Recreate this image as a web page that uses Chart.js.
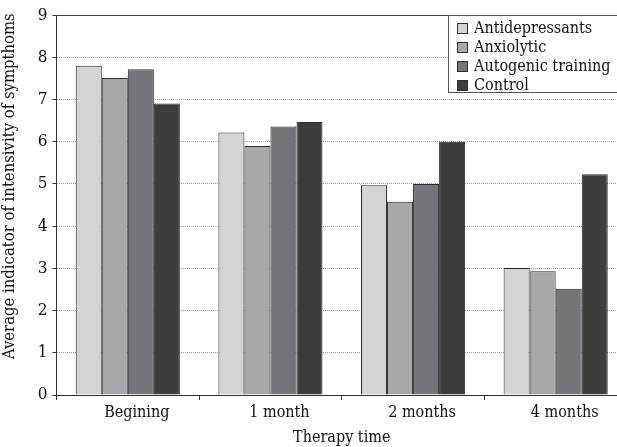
<!DOCTYPE html>
<html lang="en">
<head>
<meta charset="UTF-8">
<title>Therapy time</title>
<script src="https://cdn.jsdelivr.net/npm/chart.js"></script>
<style>
    html, body { margin: 0; padding: 0; background: #fff; }
    .moldura { position: relative; width: 617px; height: 447px; overflow: hidden; }
    .moldura canvas { position: absolute; left: 0; top: 0; }
    .legenda {
        position: absolute; left: 448px; top: 15px; width: 200px; height: 78px;
        border: 1px solid #555; background: #fff; box-sizing: border-box;
        font-family: "DejaVu Serif Condensed", "DejaVu Serif", serif; font-size: 16px; color: #111;
        padding-top: 2px;
    }
    .legenda div { height: 19px; line-height: 19px; white-space: nowrap; }
    .legenda span.q {
        display: inline-block; width: 9px; height: 9px; border: 1px solid #333;
        margin: 0 6px 0 8px; vertical-align: -1px;
    }
</style>
</head>
<body>
<div class="moldura">
    <canvas id="grafico" width="627" height="447"></canvas>
    <div class="legenda" id="legenda"></div>
</div>

<script>
    // dados
    const categorias = ['Begining', '1 month', '2 months', '4 months'];
    const antidepressants = [7.8, 6.22, 4.97, 3.01];
    const anxiolytic = [7.51, 5.9, 4.58, 2.93];
    const autogenic = [7.72, 6.36, 5.0, 2.52];
    const control = [6.91, 6.47, 6.0, 5.23];

    const nomesSeries = ['Antidepressants', 'Anxiolytic', 'Autogenic training', 'Control'];
    const coresSeries = ['#d3d4d6', '#a7a8ab', '#737579', '#3d3d3d'];
    const valoresSeries = [antidepressants, anxiolytic, autogenic, control];

    const fonte = '"DejaVu Serif Condensed", "DejaVu Serif", serif';

    // legenda em html (fica por cima da area do grafico)
    const legenda = document.getElementById('legenda');
    for (let i = 0; i < nomesSeries.length; i++) {
        const linha = document.createElement('div');
        linha.innerHTML = '<span class="q" style="background:' + coresSeries[i] + '"></span>' + nomesSeries[i];
        legenda.appendChild(linha);
    }

    const datasets = [];
    for (let i = 0; i < nomesSeries.length; i++) {
        datasets.push({
            label: nomesSeries[i],
            data: valoresSeries[i],
            backgroundColor: coresSeries[i],
            borderColor: '#2a2a2a',
            borderWidth: 1,
            categoryPercentage: 0.73,
            barPercentage: 1.0
        });
    }

    const config = {
        type: 'bar',
        data: { labels: categorias, datasets: datasets },
        options: {
            responsive: false,
            animation: false,
            layout: { padding: { top: 15, right: 0, left: 0, bottom: 0 } },
            plugins: { legend: { display: false }, tooltip: { enabled: false } },
            scales: {
                x: {
                    afterFit: function (scale) { scale.height = 52; },
                    grid: {
                        offset: true,
                        drawOnChartArea: false,
                        tickLength: 5,
                        tickColor: '#333'
                    },
                    border: { color: '#333', width: 1 },
                    ticks: {
                        color: '#111',
                        font: { family: fonte, size: 16 },
                        padding: 3,
                        labelOffset: 9
                    },
                    title: {
                        display: true,
                        text: 'Therapy time',
                        color: '#111',
                        font: { family: fonte, size: 16 },
                        padding: { top: 4, bottom: 0 }
                    }
                },
                y: {
                    min: 0,
                    max: 9,
                    afterFit: function (scale) { scale.width = 56.5; },
                    ticks: {
                        stepSize: 1,
                        color: '#111',
                        font: { family: fonte, size: 17 },
                        padding: 5
                    },
                    grid: {
                        color: function (ctx) {
                            if (ctx.tick && (ctx.tick.value === 9 || ctx.tick.value === 0)) return '#444';
                            return '#a0a0a0';
                        },
                        lineWidth: 1,
                        tickLength: 4,
                        tickColor: '#333',
                        tickBorderDash: []
                    },
                    border: {
                        color: '#333',
                        width: 1,
                        dash: function (ctx) {
                            if (ctx.tick && (ctx.tick.value === 9 || ctx.tick.value === 0)) return [];
                            return [1, 1];
                        }
                    },
                    title: {
                        display: true,
                        // espacos no inicio para subir o texto como no original
                        text: '\u00a0\u00a0\u00a0\u00a0\u00a0\u00a0\u00a0\u00a0Average indicator of intensivity of sympthoms',
                        color: '#111',
                        font: { family: fonte, size: 16.5 },
                        padding: { top: 0, bottom: 3 }
                    }
                }
            }
        }
    };

    new Chart(document.getElementById('grafico'), config);
</script>
</body>
</html>
